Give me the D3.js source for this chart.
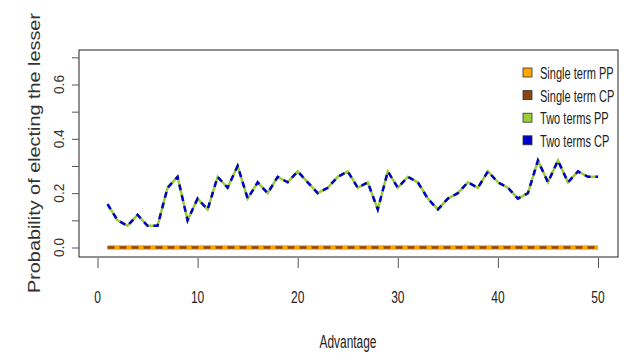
<!DOCTYPE html>
<html>
<head>
<meta charset="utf-8">
<script src="https://cdn.jsdelivr.net/npm/d3@7"></script>
<style>
body { margin: 0; background: #fff; }
svg { display: block; }
</style>
</head>
<body>
<svg id="chart" width="644" height="363"></svg>
<script>
// advantage values 1..50
const advantage = d3.range(1, 51);
const singlePP = advantage.map(() => 0);
const singleCP = advantage.map(() => 0);
const twoTerms = [0.16, 0.10, 0.08, 0.12, 0.08, 0.08, 0.22, 0.26, 0.10, 0.18,
                  0.14, 0.26, 0.22, 0.30, 0.18, 0.24, 0.20, 0.26, 0.24, 0.28,
                  0.24, 0.20, 0.22, 0.26, 0.28, 0.22, 0.24, 0.14, 0.28, 0.22,
                  0.26, 0.24, 0.18, 0.14, 0.18, 0.20, 0.24, 0.22, 0.28, 0.24,
                  0.22, 0.18, 0.20, 0.32, 0.24, 0.32, 0.24, 0.28, 0.26, 0.26];
const twoPP = twoTerms;
const twoCP = twoTerms;
const xTicks = [0, 10, 20, 30, 40, 50];
const yTicks = [0, 0.1, 0.2, 0.3, 0.4, 0.5, 0.6, 0.7];
const legendNames = ["Single term PP", "Single term CP", "Two terms PP", "Two terms CP"];
const legendColors = ["#ffa500", "#8b4513", "#9acd32", "#0000cd"];

const font = "'Liberation Sans', Arial, sans-serif";
const svg = d3.select("#chart");

const x = d3.scaleLinear().domain([0, 50]).range([97.5, 598]);
const y = d3.scaleLinear().domain([0, 0.6]).range([247.5, 84.5]);

// plot box
svg.append("rect")
    .attr("x", 79).attr("y", 50)
    .attr("width", 539).attr("height", 207)
    .attr("fill", "none").attr("stroke", "#222").attr("stroke-width", 1);

// x axis (ticks only, labels drawn squeezed below)
const xAxis = svg.append("g")
    .attr("transform", "translate(0,258)")
    .call(d3.axisBottom(x).tickValues(xTicks).tickSize(10).tickFormat(""));
xAxis.select(".domain").remove();
xAxis.selectAll("line").attr("stroke", "#555");

svg.selectAll(".xlab")
    .data(xTicks)
    .enter().append("text")
    .attr("class", "xlab")
    .attr("transform", d => "translate(" + x(d) + ",303) scale(0.75,1)")
    .attr("text-anchor", "middle")
    .attr("font-family", font).attr("font-size", 16).attr("fill", "#222")
    .text(d3.format("d"));

// y axis
const yAxis = svg.append("g")
    .attr("transform", "translate(79,0)")
    .call(d3.axisLeft(y).tickValues(yTicks).tickSize(7).tickFormat(""));
yAxis.select(".domain").remove();
yAxis.selectAll("line").attr("stroke", "#555");

svg.selectAll(".ylab")
    .data(yTicks.filter((d, i) => i % 2 === 0))
    .enter().append("text")
    .attr("class", "ylab")
    .attr("transform", d => "translate(64," + y(d) + ") rotate(-90)")
    .attr("text-anchor", "middle")
    .attr("font-family", font)
    .attr("font-size", 15).attr("fill", "#333")
    .attr("textLength", 19).attr("lengthAdjust", "spacingAndGlyphs")
    .text(d3.format(".1f"));

// axis titles
svg.append("text")
    .attr("transform", "translate(348,348) scale(0.68,1)")
    .attr("text-anchor", "middle")
    .attr("font-family", font).attr("font-size", 17.5).attr("fill", "#222")
    .text("Advantage");

svg.append("text")
    .attr("transform", "translate(40,153) rotate(-90)")
    .attr("text-anchor", "middle")
    .attr("font-family", font)
    .attr("font-size", 17).attr("fill", "#333")
    .attr("textLength", 280).attr("lengthAdjust", "spacingAndGlyphs")
    .text("Probability of electing the lesser");

// lines
const line = d3.line().x((d, i) => x(advantage[i])).y(d => y(d));

svg.append("path").datum(singlePP).attr("d", line)
    .attr("fill", "none").attr("stroke", legendColors[0]).attr("stroke-width", 4.5);
svg.append("path").datum(singleCP).attr("d", line)
    .attr("fill", "none").attr("stroke", legendColors[1]).attr("stroke-width", 2.5)
    .attr("stroke-dasharray", "7,5");
svg.append("path").datum(twoPP).attr("d", line)
    .attr("fill", "none").attr("stroke", legendColors[2]).attr("stroke-width", 2.5);
svg.append("path").datum(twoCP).attr("d", line)
    .attr("fill", "none").attr("stroke", legendColors[3]).attr("stroke-width", 2.5)
    .attr("stroke-dasharray", "6,5");

// legend
const legend = svg.selectAll(".leg")
    .data(legendNames)
    .enter().append("g")
    .attr("class", "leg")
    .attr("transform", (d, i) => "translate(523," + (73 + i * 22.6) + ")");
legend.append("rect")
    .attr("x", 0).attr("y", -5)
    .attr("width", 9).attr("height", 9)
    .attr("fill", (d, i) => legendColors[i])
    .attr("stroke", "#333").attr("stroke-width", 0.8);
legend.append("text")
    .attr("transform", "translate(17,6) scale(0.65,1)")
    .attr("font-family", font).attr("font-size", 17).attr("fill", "#222")
    .text(d => d);
</script>
</body>
</html>
